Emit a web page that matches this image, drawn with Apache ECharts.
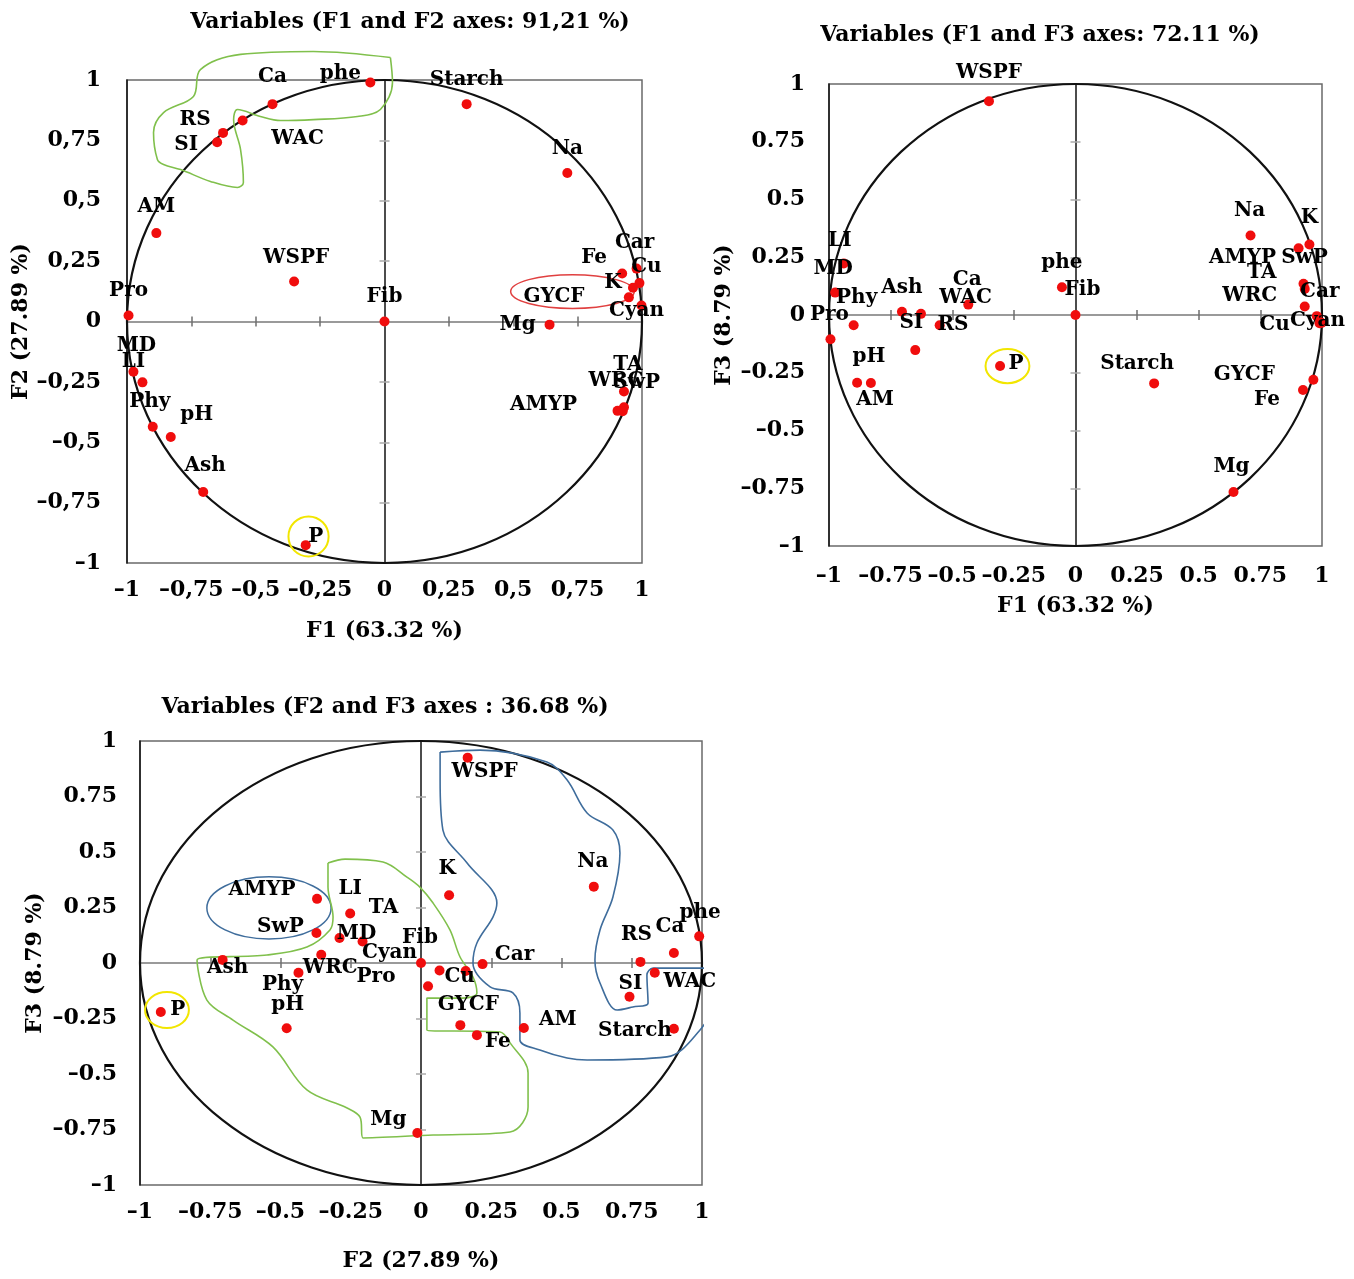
<!DOCTYPE html>
<html><head><meta charset="utf-8">
<script src="https://cdn.jsdelivr.net/npm/echarts@6/dist/echarts.min.js"></script>
<style>html,body{margin:0;padding:0;background:#fff}#c{width:1354px;height:1279px}</style>
</head><body><div id="c"></div>
<script>
// ---------- DATA ----------
const variables = ['phe','Ca','WAC','RS','SI','Starch','Na','AM','WSPF','Pro','Fib','MD','LI','Phy','pH','Ash','P','Fe','Car','Cu','K','GYCF','Cyan','Mg','TA','WRC','SwP','AMYP'];
const F1 = [-0.055,-0.435,-0.551,-0.627,-0.650,0.319,0.710,-0.886,-0.351,-0.994,0.000,-0.975,-0.940,-0.900,-0.830,-0.704,-0.306,0.923,0.979,0.990,0.949,0.965,0.998,0.641,0.930,0.930,0.925,0.905];
const F2 = [0.990,0.900,0.832,0.781,0.742,0.900,0.615,0.366,0.166,0.025,0.000,-0.208,-0.252,-0.436,-0.478,-0.706,-0.926,0.199,0.219,0.159,0.100,0.140,0.066,-0.013,-0.290,-0.355,-0.372,-0.370];
const F3 = [0.120,0.045,-0.044,0.005,-0.152,-0.296,0.344,-0.293,0.925,-0.105,0.000,0.097,0.223,-0.044,-0.294,0.014,-0.221,-0.325,-0.005,-0.036,0.305,-0.280,-0.034,-0.766,0.113,0.037,0.135,0.289];

const tickValues = [-1,-0.75,-0.5,-0.25,0,0.25,0.5,0.75,1];
const tickLabelsComma = ['\u20131','\u20130,75','\u20130,5','\u20130,25','0','0,25','0,5','0,75','1'];
const tickLabelsDot = ['\u20131','\u20130.75','\u20130.5','\u20130.25','0','0.25','0.5','0.75','1'];

const titles = ['Variables (F1 and F2 axes: 91,21 %)','Variables (F1 and F3 axes: 72.11 %)','Variables (F2 and F3 axes : 36.68 %)'];
const axisNameF1 = 'F1 (63.32 %)';
const axisNameF2 = 'F2 (27.89 %)';
const axisNameF3 = 'F3 (8.79 %)';

// hand-drawn annotation outlines (data coordinates)
const loopGreen1 = [[0.023,1.093],[-0.276,1.118],[-0.559,1.106],[-0.715,1.043],[-0.742,0.932],[-0.858,0.865],[-0.897,0.783],[-0.882,0.671],[-0.858,0.650],[-0.792,0.629],[-0.676,0.580],[-0.571,0.555],[-0.548,0.576],[-0.559,0.712],[-0.586,0.836],[-0.571,0.878],[-0.482,0.849],[-0.404,0.832],[-0.276,0.836],[-0.105,0.849],[-0.016,0.878],[0.031,0.990],[0.023,1.093]];
const loopGreen3 = [[-0.331,0.450],[-0.270,0.468],[-0.135,0.455],[-0.050,0.387],[-0.004,0.342],[0.043,0.270],[0.103,0.149],[0.139,0.027],[0.185,-0.063],[0.199,-0.135],[0.146,-0.158],[0.021,-0.158],[0.021,-0.302],[0.281,-0.311],[0.317,-0.360],[0.381,-0.495],[0.381,-0.649],[0.317,-0.761],[0.043,-0.775],[-0.206,-0.788],[-0.217,-0.694],[-0.263,-0.653],[-0.406,-0.572],[-0.527,-0.378],[-0.669,-0.257],[-0.762,-0.167],[-0.797,0.014],[-0.548,0.036],[-0.406,0.072],[-0.324,0.149],[-0.313,0.207],[-0.331,0.342],[-0.331,0.450]];
const loopBlue3 = [[0.068,0.950],[0.210,0.959],[0.448,0.905],[0.520,0.824],[0.591,0.676],[0.683,0.599],[0.708,0.495],[0.683,0.297],[0.637,0.149],[0.619,0.014],[0.637,-0.090],[0.698,-0.212],[0.754,-0.198],[0.808,-0.180],[0.804,-0.054],[0.826,-0.023],[0.968,-0.023],[1.107,-0.032],[1.064,-0.153],[0.993,-0.302],[0.875,-0.423],[0.591,-0.437],[0.520,-0.428],[0.423,-0.392],[0.352,-0.347],[0.352,-0.225],[0.327,-0.135],[0.246,-0.108],[0.185,0.000],[0.199,0.090],[0.256,0.207],[0.270,0.270],[0.164,0.450],[0.078,0.599],[0.068,0.824],[0.068,0.950]];
// ellipses: [cx, cy, rx, ry]
const ellYellow1 = [-0.295,-0.890,0.078,0.083];
const ellRed1 = [0.730,0.124,0.240,0.070];
const ellYellow2 = [-0.276,-0.221,0.089,0.074];
const ellYellow3 = [-0.904,-0.212,0.078,0.081];
const ellBlue3 = [-0.541,0.248,0.221,0.140];
const unitCircle = [0,0,1,1];

// ---------- STYLE (label offsets in px) ----------
const off1 = {phe:[-30,-9],Ca:[0,-27],WAC:[55,18],RS:[-28,-13],SI:[-31,2],Starch:[0,-24],Na:[0,-24],AM:[0,-26],WSPF:[2,-24],Pro:[0,-25],Fib:[0,-25],MD:[3,-26],LI:[-9,-21],Phy:[-3,-25],pH:[26,-22],Ash:[2,-26],P:[10,-8],Fe:[-28,-16],Car:[-2,-26],Cu:[7,-16],K:[-16,-15],GYCF:[-79,9],Cyan:[-5,5],Mg:[-32,0],TA:[4,-27],WRC:[-8,-26],SwP:[14,-29],AMYP:[-74,-6]};
const off2 = {WSPF:[0,-29],LI:[-4,-23],MD:[-2,-24],Phy:[3,-27],Pro:[-1,-24],AM:[18,17],pH:[-2,-26],Ash:[0,-24],SI:[-4,-27],RS:[32,11],WAC:[26,-27],Ca:[-1,-25],P:[16,-2],phe:[0,-24],Fib:[7,-25],Starch:[-17,-20],Na:[-1,-25],K:[0,-27],AMYP:[-56,10],SwP:[1,-26],TA:[-43,-16],WRC:[-55,-11],Car:[3,-24],Cu:[-45,1],Cyan:[-4,-2],GYCF:[-69,-5],Fe:[-36,10],Mg:[-2,-25]};
const off3 = {WSPF:[17,14],K:[-2,-26],Na:[-1,-25],phe:[1,-24],Ca:[-4,-26],RS:[-4,-27],WAC:[35,9],SI:[1,-13],Starch:[-39,2],Car:[32,-9],Cyan:[-50,-18],Cu:[-6,6],Pro:[-52,-10],Fib:[-1,-25],GYCF:[8,-20],Fe:[21,7],AM:[34,-8],AMYP:[-55,-9],LI:[0,-25],TA:[44,-30],MD:[-6,-8],SwP:[-36,-6],WRC:[9,13],Ash:[5,8],Phy:[-16,12],pH:[1,-23],P:[17,-2],Mg:[-29,-13]};

const FONT = 'DejaVu Serif';
const TXT = '#000';
const txtTitle = {fontFamily:FONT, fontWeight:'bold', fontSize:22, color:TXT};
const txtTick = {fontFamily:FONT, fontWeight:'bold', fontSize:22, color:TXT};
const txtName = {fontFamily:FONT, fontWeight:'bold', fontSize:22, color:TXT};
const txtPoint = {fontFamily:FONT, fontWeight:'bold', fontSize:20, color:'#000', textBorderWidth:0, textBorderColor:'transparent', opacity:1};

const panels = [
  {grid:{left:127,top:80,width:515,height:483}, xs:F1, ys:F2, off:off1, labels:tickLabelsComma, xName:axisNameF1, yName:axisNameF2, xGap:57, yGap:92, xMargin:16, yMargin:26,
   title:{text:titles[0], left:405, top:6},
   lines:[[loopGreen1,'#80c04c']], ells:[[ellYellow1,'#f2e600',2],[ellRed1,'#e04040',1.5]]},
  {grid:{left:829,top:84,width:493,height:462}, xs:F1, ys:F3, off:off2, labels:tickLabelsDot, xName:axisNameF1, yName:axisNameF3, xGap:49, yGap:94, xMargin:19, yMargin:24,
   title:{text:titles[1], left:1035, top:19},
   lines:[], ells:[[ellYellow2,'#f2e600',2]]},
  {grid:{left:140,top:741,width:562,height:444}, xs:F2, ys:F3, off:off3, labels:tickLabelsDot, xName:axisNameF2, yName:axisNameF3, xGap:65, yGap:94, xMargin:16, yMargin:23,
   title:{text:titles[2], left:380, top:691},
   lines:[[loopGreen3,'#80c04c'],[loopBlue3,'#3f6d9c']], ells:[[ellYellow3,'#f2e600',2],[ellBlue3,'#3f6d9c',1.5]]}
];

function fmt(labels){ return v => { const i = tickValues.findIndex(t => Math.abs(t - v) < 1e-6); return i >= 0 ? labels[i] : ''; }; }

const grids = [], xAxes = [], yAxes = [], series = [], titleOpts = [];
panels.forEach((p, gi) => {
  grids.push(Object.assign({show:true, borderColor:'#6a6a6a', borderWidth:1.5, backgroundColor:'transparent'}, p.grid));
  titleOpts.push({text:p.title.text, left:p.title.left, top:p.title.top, textAlign:'center', textStyle:Object.assign({}, txtTitle)});
  const base = xAxes.length;
  const common = {gridIndex:gi, type:'value', min:-1, max:1, interval:0.25, splitLine:{show:false}};
  xAxes.push(Object.assign({}, common, {position:'bottom', axisLine:{show:false, onZero:false}, axisTick:{show:false},
    axisLabel:Object.assign({show:true, margin:p.xMargin, formatter:fmt(p.labels)}, txtTick),
    name:p.xName, nameLocation:'middle', nameGap:p.xGap, nameTextStyle:Object.assign({}, txtName)}));
  yAxes.push(Object.assign({}, common, {position:'left', axisLine:{show:true, onZero:false, lineStyle:{color:'#111', width:1.5}}, axisTick:{show:false},
    axisLabel:Object.assign({show:true, margin:p.yMargin, formatter:fmt(p.labels)}, txtTick),
    name:p.yName, nameLocation:'middle', nameGap:p.yGap, nameRotate:90, nameTextStyle:Object.assign({}, txtName)}));
  [false, true].forEach((inside, k) => {
    xAxes.push(Object.assign({}, common, {position:'bottom', axisLine:{show:k===0, onZero:true, onZeroAxisIndex:base, lineStyle:{color:'#9a9a9a', width:2}},
      axisTick:{show:true, inside:inside, length:5, lineStyle:{color:'#6f6f6f', width:1.5}}, axisLabel:{show:false}}));
    yAxes.push(Object.assign({}, common, {position:'left', axisLine:{show:k===0, onZero:true, onZeroAxisIndex:base, lineStyle:{color:'#111', width:1.5}},
      axisTick:{show:true, inside:inside, length:5, lineStyle:{color:'#aaaaaa', width:1.5}}, axisLabel:{show:false}}));
  });
  const ellipseSeries = (vals, color, width, z) => ({
    type:'custom', xAxisIndex:base, yAxisIndex:base, clip:false, silent:true, z:z, data:[vals],
    renderItem:(params, api) => {
      const c = api.coord([api.value(0), api.value(1)]);
      const s = api.size([api.value(2), api.value(3)]);
      return {type:'ellipse', shape:{cx:c[0], cy:c[1], rx:s[0], ry:s[1]}, style:{fill:'none', stroke:color, lineWidth:width}};
    }
  });
  series.push(ellipseSeries(unitCircle, '#111', 2.2, 2));
  p.lines.forEach(([pts, color]) => series.push({type:'line', xAxisIndex:base, yAxisIndex:base, data:pts, smooth:0.35, symbol:'none', clip:false, silent:true, z:3,
    lineStyle:{color:color, width:1.6}}));
  p.ells.forEach(([e, color, w]) => series.push(ellipseSeries(e, color, w, 3)));
  series.push({type:'scatter', xAxisIndex:base, yAxisIndex:base, symbolSize:10, z:5, silent:true,
    itemStyle:{color:'#f00d0d', opacity:1},
    label:Object.assign({show:true, position:'inside', formatter:'{b}', align:'center', verticalAlign:'middle'}, txtPoint),
    data: variables.map((v, i) => ({name:v, value:[p.xs[i], p.ys[i]], label:{offset:p.off[v] || [0,-24]}}))});
});

const chart = echarts.init(document.getElementById('c'));
chart.setOption({animation:false, backgroundColor:'#fff', title:titleOpts, grid:grids, xAxis:xAxes, yAxis:yAxes, series:series});
</script></body></html>
